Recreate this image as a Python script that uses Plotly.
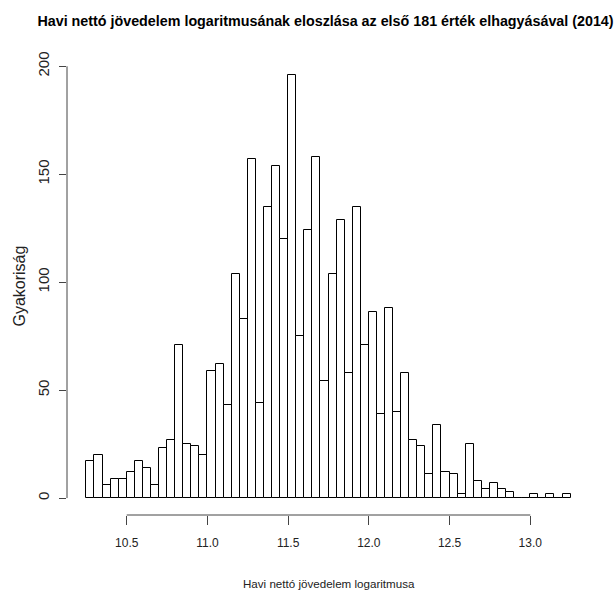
import plotly.graph_objects as go

# Histogram data
bin_start = 10.25
bin_width = 0.05
counts = [17, 20, 6, 9, 9, 12, 17, 14, 6, 23,
          27, 71, 25, 24, 20, 59, 62, 43, 104, 83,
          157, 44, 135, 154, 120, 196, 75, 124, 158, 54,
          104, 129, 58, 135, 71, 86, 39, 88, 40, 58,
          27, 24, 11, 34, 12, 11, 2, 25, 8, 4,
          7, 4, 3, 0, 0, 2, 0, 2, 0, 2]
x_ticks = [10.5, 11.0, 11.5, 12.0, 12.5, 13.0]
x_tick_labels = ["10.5", "11.0", "11.5", "12.0", "12.5", "13.0"]
y_ticks = [0, 50, 100, 150, 200]
y_tick_labels = ["0", "50", "100", "150", "200"]

title = "Havi nettó jövedelem logaritmusának eloszlása az első 181 érték elhagyásával (2014)"
x_title = "Havi nettó jövedelem logaritmusa"
y_title = "Gyakoriság"

centers = [bin_start + bin_width * (i + 0.5) for i in range(len(counts))]
x_lo = bin_start
x_hi = bin_start + bin_width * len(counts)
xpad = 0.04 * (x_hi - x_lo)
ymax = max(counts)
ypad = 0.04 * ymax

FONT = "Liberation Sans, Arial, sans-serif"

fig = go.Figure()
fig.add_trace(go.Bar(
    x=centers, y=counts, width=[bin_width] * len(counts),
    marker=dict(color="white", line=dict(color="black", width=1)),
    hoverinfo="x+y", showlegend=False,
))

fig.update_layout(
    width=616, height=593,
    margin=dict(l=67, r=26, t=58, b=78),
    paper_bgcolor="white", plot_bgcolor="white",
    font=dict(family=FONT, color="black", size=12),
    title=dict(text="<b>" + title + "</b>", x=(325.5 - 67) / 523, xref="paper", xanchor="center",
               y=1 - 21 / 593, yref="container", yanchor="middle",
               font=dict(family=FONT, size=14.3, color="black")),
    bargap=0,
)
fig.update_xaxes(
    range=[x_lo - xpad, x_hi + xpad], showgrid=False, zeroline=False, showline=False,
    tickmode="array", tickvals=x_ticks, ticktext=x_tick_labels,
    ticks="outside", ticklen=9, tickwidth=1, tickcolor="#444",
    tickfont=dict(size=12, color="#222"), ticklabelstandoff=8,
)
fig.update_yaxes(
    range=[-ypad, ymax + ypad], showgrid=False, zeroline=False, showline=False,
    tickmode="array", tickvals=y_ticks, ticktext=y_tick_labels, tickangle=-90,
    ticks="outside", ticklen=7, tickwidth=1, tickcolor="#444",
    tickfont=dict(size=15, color="#222"), ticklabelstandoff=4,
)
# R-style axis lines spanning only first..last tick
fig.add_shape(type="line", xref="x", yref="paper", x0=x_ticks[0], x1=x_ticks[-1], y0=0, y1=0,
              line=dict(color="#444", width=1))
fig.add_shape(type="line", xref="paper", yref="y", x0=0, x1=0, y0=y_ticks[0], y1=y_ticks[-1],
              line=dict(color="#444", width=1))

fig.add_annotation(text=x_title, xref="paper", yref="paper", x=0.5, y=(515.5 - 584) / 457,
                   xanchor="center", yanchor="middle", showarrow=False,
                   font=dict(family=FONT, size=11.6, color="#222"))
fig.add_annotation(text=y_title, xref="paper", yref="paper", x=(19 - 67) / 523, y=(515.5 - 287) / 457,
                   xanchor="center", yanchor="middle", textangle=-90, showarrow=False,
                   font=dict(family=FONT, size=16, color="#222"))

fig.write_html("out.html")
